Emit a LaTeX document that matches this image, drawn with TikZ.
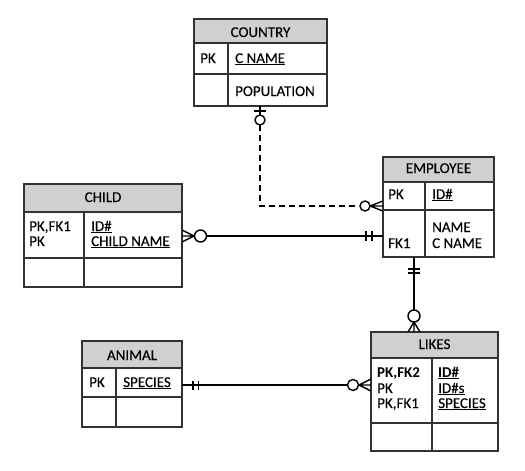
\documentclass[tikz,border=0pt]{standalone}
\usepackage{fontspec}
\setmainfont{Carlito}[UprightFeatures={FakeBold=0.25}]
\usetikzlibrary{calc}
\definecolor{hdrgray}{RGB}{208,208,208}
\definecolor{bord}{RGB}{50,50,50}
\tikzset{
  hdr/.style={fill=hdrgray},
  tbl/.style={draw=bord, line width=1.2pt, rectangle, inner sep=0pt, outer sep=0pt},
  grid/.style={draw=bord, line width=1.2pt},
  txt/.style={anchor=base west, inner sep=0pt, font=\fontsize{15}{16}\selectfont},
  htxt/.style={anchor=base, inner sep=0pt, font=\fontsize{15}{16}\selectfont},
  conn/.style={line width=1.4pt, black},
  dconn/.style={conn, dash pattern=on 6pt off 4pt},
  ring/.style={conn, fill=white},
}
% name, x1, y1, x2, y2, header bottom, row bottom, column divider
\newcommand{\ertbl}[8]{%
  \fill[hdr] (#2,#3) rectangle (#4,#6);
  \node[tbl, minimum width={#4-#2}, minimum height={#5-#3}] (#1) at ({(#2+#4)/2},{(#3+#5)/2}) {};
  \draw[grid] (#2,#6) -- (#4,#6) (#2,#7) -- (#4,#7) (#8,#6) -- (#8,#5);
}
\begin{document}
\begin{tikzpicture}[x=1pt,y=-1pt]
\useasboundingbox (0,0) rectangle (525,471);

% tables
\ertbl{country}{194}{19}{327}{106}{43}{74}{228}
\ertbl{employee}{383}{157}{494}{257}{182}{210}{425}
\ertbl{child}{24}{184}{182}{287}{212}{258}{84}
\ertbl{animal}{82}{341}{182}{427}{368}{397}{116}
\ertbl{likes}{371}{332}{498}{451}{358}{423}{432}

% COUNTRY texts
\node[htxt] (countryh) at (260.5,37) {COUNTRY};
\node[txt] (countrypk) at (200,63) {PK};
\node[txt] (countrycn) at (235,63) {\underline{C NAME}};
\node[txt] (countrypop) at (235,96) {POPULATION};

% EMPLOYEE texts
\node[htxt] (employeeh) at (438.5,173) {EMPLOYEE};
\node[txt] (employeepk) at (388,199) {PK};
\node[txt] (employeeid) at (432,199) {\underline{ID\#}};
\node[txt] (employeename) at (432,232) {NAME};
\node[txt] (employeecn) at (432,248) {C NAME};
\node[txt] (employeefk) at (388,248) {FK1};

% CHILD texts
\node[htxt] (childh) at (103,202) {CHILD};
\node[txt] (childk1) at (29,231) {PK,FK1};
\node[txt] (childk2) at (29,246) {PK};
\node[txt] (childid) at (91,231) {\underline{ID\#}};
\node[txt] (childname) at (91,246) {\underline{CHILD NAME}};

% ANIMAL texts
\node[htxt] (animalh) at (132,360) {ANIMAL};
\node[txt] (animalpk) at (89,387) {PK};
\node[txt] (animalsp) at (123,387) {\underline{SPECIES}};

% LIKES texts
\node[htxt] (likesh) at (434.5,349) {LIKES};
\node[txt] (likesk1) at (377,377) {\textbf{PK,FK2}};
\node[txt] (likesk2) at (377,393) {PK};
\node[txt] (likesk3) at (377,408) {PK,FK1};
\node[txt] (likesid) at (438,377) {\textbf{\underline{ID\#}}};
\node[txt] (likesids) at (438,393) {\underline{ID\#s}};
\node[txt] (likessp) at (438,408) {\underline{SPECIES}};

% helper coordinates
\coordinate (x260) at (260,0);
\coordinate (y206) at (0,206);
\coordinate (y236) at (0,236);
\coordinate (x414) at (414,0);
\coordinate (y385) at (0,385);

% COUNTRY -- EMPLOYEE (dashed, one-and-only / zero-or-many)
\coordinate (a1) at (country.south -| x260);
\coordinate (e1) at (employee.west |- y206);
\draw[conn] (a1) -- ($(a1)+(0,9)$);
\draw[conn] ($(a1)+(-6,5)$) -- ($(a1)+(6,5)$);
\draw[dconn] ($(a1)+(0,19)$) -- (a1 |- e1) -- ($(e1)+(-24,0)$);
\draw[ring] ($(a1)+(0,14)$) circle[radius=5];
\draw[conn] ($(e1)+(-13,0)$) -- ($(e1)+(0,-5)$)
            ($(e1)+(-13,0)$) -- (e1)
            ($(e1)+(-13,0)$) -- ($(e1)+(0,5)$);
\draw[ring] ($(e1)+(-18,0)$) circle[radius=5];

% CHILD -- EMPLOYEE
\coordinate (c2) at (child.east |- y236);
\coordinate (e2) at (employee.west |- y236);
\draw[conn] ($(c2)+(18,0)$) -- (e2);
\draw[conn] ($(c2)+(12,0)$) -- ($(c2)+(0,-6)$)
            ($(c2)+(12,0)$) -- (c2)
            ($(c2)+(12,0)$) -- ($(c2)+(0,6)$);
\draw[ring] ($(c2)+(18.5,0)$) circle[radius=6];
\draw[conn] ($(e2)+(-17,-5)$) -- ($(e2)+(-17,5)$)
            ($(e2)+(-11,-5)$) -- ($(e2)+(-11,5)$);

% EMPLOYEE -- LIKES
\coordinate (e3) at (employee.south -| x414);
\coordinate (l3) at (likes.north -| x414);
\draw[conn] (e3) -- ($(l3)+(0,-16)$);
\draw[conn] ($(e3)+(-6,12)$) -- ($(e3)+(6,12)$)
            ($(e3)+(-6,16)$) -- ($(e3)+(6,16)$);
\draw[conn] ($(l3)+(0,-10)$) -- ($(l3)+(-6,0)$)
            ($(l3)+(0,-10)$) -- (l3)
            ($(l3)+(0,-10)$) -- ($(l3)+(6,0)$);
\draw[ring] ($(l3)+(0,-16)$) circle[radius=6];

% ANIMAL -- LIKES
\coordinate (a4) at (animal.east |- y385);
\coordinate (l4) at (likes.west |- y385);
\draw[conn] (a4) -- ($(l4)+(-18,0)$);
\draw[conn] ($(a4)+(11,-4.5)$) -- ($(a4)+(11,4.5)$)
            ($(a4)+(16.5,-4.5)$) -- ($(a4)+(16.5,4.5)$);
\draw[conn] ($(l4)+(-12,0)$) -- ($(l4)+(0,-6)$)
            ($(l4)+(-12,0)$) -- (l4)
            ($(l4)+(-12,0)$) -- ($(l4)+(0,6)$);
\draw[ring] ($(l4)+(-18,0)$) circle[radius=5.5];
\end{tikzpicture}
\end{document}
